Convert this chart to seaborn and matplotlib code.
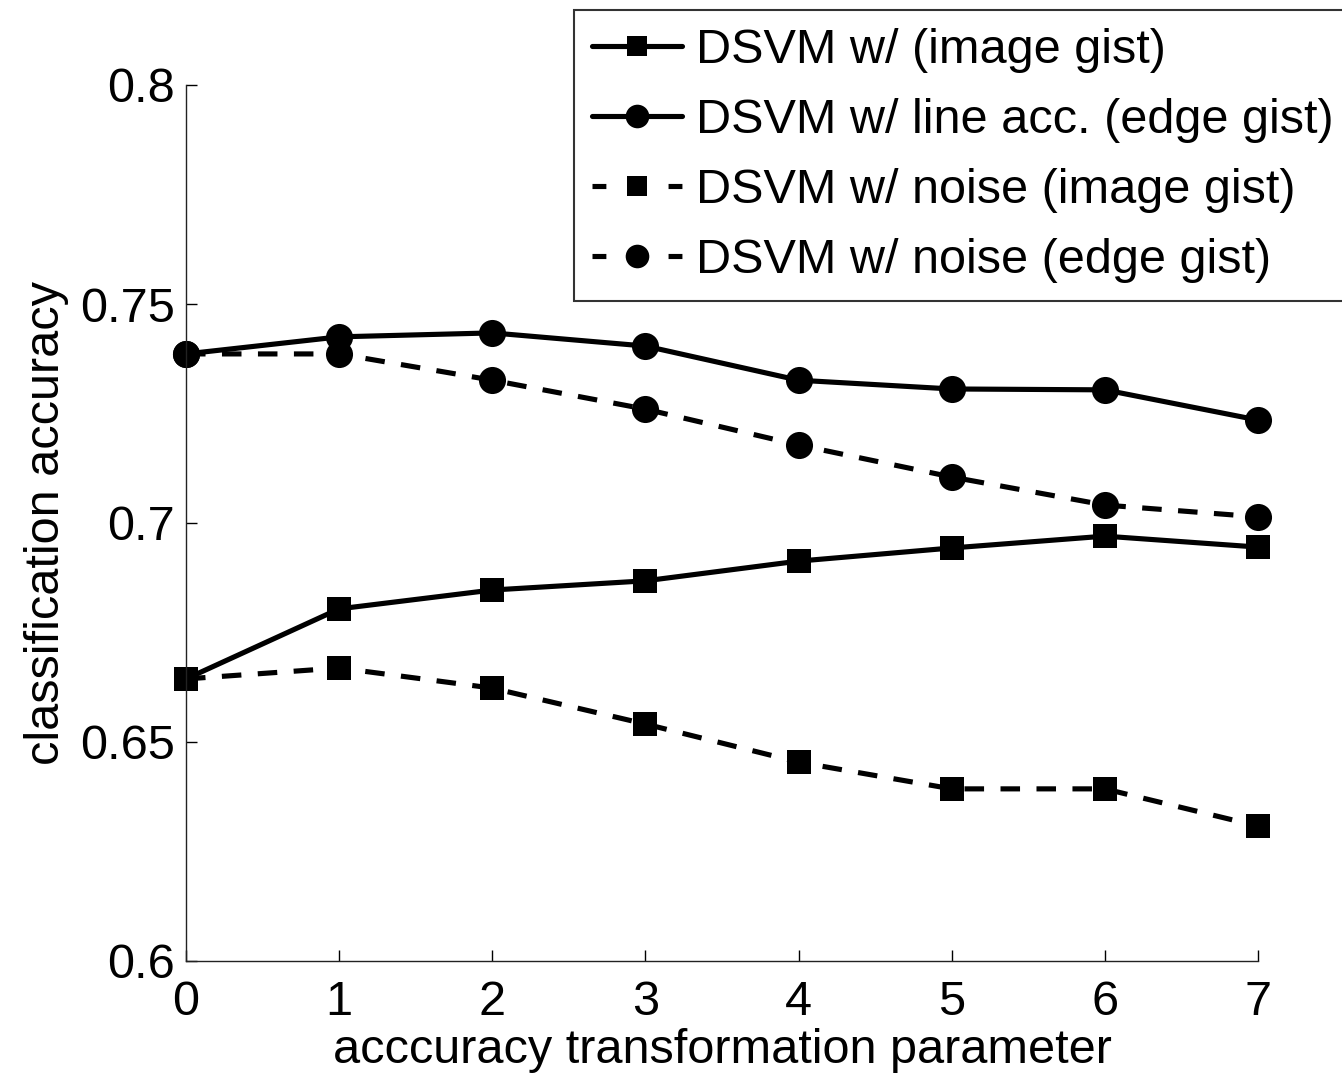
import matplotlib
matplotlib.use("Agg")
import matplotlib.pyplot as plt
import seaborn as sns
import pandas as pd
from matplotlib.lines import Line2D

sns.set_theme(style="ticks")
plt.rcParams["font.family"] = ["Liberation Sans", "DejaVu Sans"]
plt.rcParams["text.color"] = "black"
plt.rcParams["axes.labelcolor"] = "black"

params = [0, 1, 2, 3, 4, 5, 6, 7]
image_gist = [0.6644, 0.6804, 0.6847, 0.6868, 0.6913, 0.6943, 0.6970, 0.6945]
line_acc_edge = [0.7386, 0.7425, 0.7434, 0.7404, 0.7326, 0.7306, 0.7304, 0.7235]
noise_image = [0.6644, 0.6669, 0.6623, 0.6541, 0.6454, 0.6393, 0.6393, 0.6308]
noise_edge = [0.7386, 0.7386, 0.7326, 0.7260, 0.7178, 0.7105, 0.7041, 0.7014]

labels = [
    "DSVM w/ (image gist)",
    "DSVM w/ line acc. (edge gist)",
    "DSVM w/ noise (image gist)",
    "DSVM w/ noise (edge gist)",
]
series = [image_gist, line_acc_edge, noise_image, noise_edge]
markers = ["s", "o", "s", "o"]
dashed = [False, False, True, True]
ytick_vals = [0.6, 0.65, 0.7, 0.75, 0.8]
ytick_labels = ["0.6", "0.65", "0.7", "0.75", "0.8"]

fig = plt.figure(figsize=(13.42, 10.82), dpi=100)
ax = fig.add_axes([186 / 1342, 1 - 961 / 1082, (1258 - 186) / 1342, (961 - 85) / 1082])

LW = 3.7
dash_pattern = (3.8, 3.2)
handles = []
for vals, lab, mk, ds in zip(series, labels, markers, dashed):
    df = pd.DataFrame({"x": params, "y": vals})
    ms = 17 if mk == "s" else 19.5
    sns.lineplot(data=df, x="x", y="y", ax=ax, color="black", lw=LW,
                 marker=mk, markersize=ms, markeredgecolor="black",
                 markeredgewidth=0, legend=False, clip_on=False)
    line = ax.get_lines()[-1]
    if ds:
        line.set_dashes(dash_pattern)
    hms = 15 if mk == "s" else 17
    h = Line2D([], [], color="black", lw=LW, marker=mk, markersize=hms,
               markeredgewidth=0)
    if ds:
        # short dash at each end of the legend sample
        h.set_dashes((2.7, 12.1))
    handles.append(h)

ax.set_xlim(0, 7)
ax.set_ylim(0.6, 0.8)
ax.set_xticks(params)
ax.set_xticklabels([str(p) for p in params])
ax.set_yticks(ytick_vals)
ax.set_yticklabels(ytick_labels)
sns.despine(ax=ax)
for s in ["left", "bottom"]:
    ax.spines[s].set_linewidth(1.0)
    ax.spines[s].set_color("#222222")
ax.tick_params(axis="both", direction="in", length=8, width=1.0,
               labelsize=35, colors="black")
ax.tick_params(axis="x", pad=14)
ax.tick_params(axis="y", pad=8)
ax.set_xlabel("acccuracy transformation parameter", fontsize=35, labelpad=2)
ax.set_ylabel("classification accuracy", fontsize=35, labelpad=8)

leg = fig.legend(handles, labels, loc="upper left",
                 bbox_to_anchor=(574 / 1342, 1 - 10 / 1082),
                 fontsize=35, frameon=True, fancybox=False,
                 edgecolor="black", handlelength=1.85, handletextpad=0.27,
                 borderpad=0.38, labelspacing=0.51, borderaxespad=0)
leg.get_frame().set_linewidth(1.5)
for t in leg.get_texts():
    t.set_color("black")

fig.savefig("out.png", dpi=100, facecolor="white")
